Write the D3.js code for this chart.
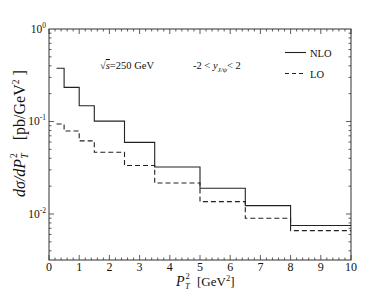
<!DOCTYPE html>
<html>
<head>
<meta charset="utf-8">
<script src="https://cdn.jsdelivr.net/npm/d3@7"></script>
<style>
  body { margin: 0; background: #fff; }
  text { font-family: 'Liberation Serif', 'Times New Roman', Times, serif; fill: #111; }
</style>
</head>
<body>
<div id="chart"></div>
<script>
// bin edges in P_T^2 (GeV^2)
const binEdges = [0.25, 0.5, 1, 1.5, 2.5, 3.5, 5, 6.5, 8, 10];
// dsigma/dPT^2 per bin (pb/GeV^2)
const nloValues = [0.376, 0.234, 0.148, 0.101, 0.0595, 0.0322, 0.019, 0.0123, 0.0075];
const loValues = [0.094, 0.079, 0.0617, 0.0465, 0.0334, 0.0216, 0.0136, 0.0090, 0.0066];
const xTicks = [0, 1, 2, 3, 4, 5, 6, 7, 8, 9, 10];
const yTicks = [1, 0.1, 0.01];
const yTickExp = ['0', '-1', '-2'];

const width = 390, height = 290;
const margin = {top: 29, right: 39, bottom: 30, left: 49};
const chartWidth = width - margin.left - margin.right,
      chartHeight = height - margin.top - margin.bottom;

const svg = d3.select('#chart').append('svg')
  .attr('width', width)
  .attr('height', height);

const x = d3.scaleLinear().domain([0, 10]).range([0, chartWidth]);
const y = d3.scaleLog().domain([0.00318, 1]).range([chartHeight, 0]);

const chart = svg.append('g')
  .attr('transform', `translate(${margin.left}, ${margin.top})`);

// minor ticks
const xMinor = d3.range(0, 10.001, 0.2);
const yMinor = [];
[0.001, 0.01, 0.1].forEach(dec => {
  for (let k = 1; k < 10; k++) {
    const v = dec * k;
    if (v >= 0.00318 && v <= 1) yMinor.push(v);
  }
});

const tickG = chart.append('g').attr('stroke', '#333').attr('stroke-width', 0.8);

xMinor.forEach(v => {
  const major = Math.abs(v - Math.round(v)) < 1e-6;
  const len = major ? 5 : 2.5;
  tickG.append('line').attr('x1', x(v)).attr('x2', x(v))
    .attr('y1', chartHeight).attr('y2', chartHeight - len);
  tickG.append('line').attr('x1', x(v)).attr('x2', x(v))
    .attr('y1', 0).attr('y2', len);
});

yMinor.forEach(v => {
  const major = yTicks.some(t => Math.abs(t - v) / t < 1e-6);
  const len = major ? 5 : 2.5;
  tickG.append('line').attr('x1', 0).attr('x2', len)
    .attr('y1', y(v)).attr('y2', y(v));
  tickG.append('line').attr('x1', chartWidth).attr('x2', chartWidth - len)
    .attr('y1', y(v)).attr('y2', y(v));
});

// frame
chart.append('rect')
  .attr('x', 0).attr('y', 0)
  .attr('width', chartWidth).attr('height', chartHeight)
  .attr('fill', 'none')
  .attr('stroke', '#333')
  .attr('stroke-width', 1);

// x tick labels
chart.append('g')
  .selectAll('text')
  .data(xTicks)
  .enter().append('text')
  .attr('x', d => x(d))
  .attr('y', chartHeight + 11)
  .attr('text-anchor', 'middle')
  .attr('font-size', 12)
  .text(d => d);

// y tick labels with superscripts
const yLab = chart.append('g')
  .selectAll('text')
  .data(yTicks)
  .enter().append('text')
  .attr('x', -3)
  .attr('y', d => y(d) + 4)
  .attr('text-anchor', 'end')
  .attr('font-size', 11.5);
yLab.append('tspan').text('10');
yLab.append('tspan')
  .attr('dy', -5)
  .attr('font-size', 7.5)
  .text((d, i) => yTickExp[i]);

// step histogram paths
function stepPoints(values) {
  const pts = values.map((v, i) => [binEdges[i], v]);
  pts.push([binEdges[binEdges.length - 1], values[values.length - 1]]);
  return pts;
}

const line = d3.line()
  .x(d => x(d[0]))
  .y(d => y(d[1]))
  .curve(d3.curveStepAfter);

chart.append('path')
  .datum(stepPoints(nloValues))
  .attr('d', line)
  .attr('fill', 'none')
  .attr('stroke', '#222')
  .attr('stroke-width', 1.1);

chart.append('path')
  .datum(stepPoints(loValues))
  .attr('d', line)
  .attr('fill', 'none')
  .attr('stroke', '#222')
  .attr('stroke-width', 1.1)
  .attr('stroke-dasharray', '5,3');

// annotations
const ann1 = svg.append('text')
  .attr('x', 100).attr('y', 69)
  .attr('font-size', 10.5);
ann1.append('tspan').text('√');
ann1.append('tspan').attr('font-style', 'italic')
  .attr('text-decoration', 'overline').text('s');
ann1.append('tspan').text('=250 GeV');

const ann2 = svg.append('text')
  .attr('x', 193).attr('y', 69)
  .attr('font-size', 10.5);
ann2.append('tspan').text('-2 < ');
ann2.append('tspan').attr('font-style', 'italic').text('y');
ann2.append('tspan').attr('font-style', 'italic')
  .attr('font-size', 7).attr('dy', 2.5).text('J/ψ');
ann2.append('tspan').attr('dy', -2.5).text('< 2');

// legend
const legend = svg.append('g');
legend.append('line')
  .attr('x1', 285).attr('x2', 306)
  .attr('y1', 52.5).attr('y2', 52.5)
  .attr('stroke', '#222').attr('stroke-width', 1.1);
legend.append('text')
  .attr('x', 310).attr('y', 56.5)
  .attr('font-size', 10.5)
  .text('NLO');
legend.append('line')
  .attr('x1', 285).attr('x2', 306)
  .attr('y1', 73.5).attr('y2', 73.5)
  .attr('stroke', '#222').attr('stroke-width', 1.1)
  .attr('stroke-dasharray', '4,3');
legend.append('text')
  .attr('x', 310).attr('y', 77.5)
  .attr('font-size', 10.5)
  .text('LO');

// P_T^2 style label: main italic text + stacked sub/superscript
function ptLabel(g, x0, y0, main, size, sub) {
  const t = g.append('text')
    .attr('x', x0).attr('y', y0)
    .attr('font-size', size).attr('font-style', 'italic')
    .text(main);
  const w = t.node().getComputedTextLength();
  g.append('text')
    .attr('x', x0 + w + 0.5).attr('y', y0 + 3)
    .attr('font-size', sub).attr('font-style', 'italic')
    .text('T');
  g.append('text')
    .attr('x', x0 + w + 1).attr('y', y0 - size * 0.5)
    .attr('font-size', sub)
    .text('2');
  return x0 + w + sub * 0.8;
}

// x axis label
const xl = svg.append('g');
ptLabel(xl, 176, 286, 'P', 14, 8.5);
const gevX = xl.append('text')
  .attr('x', 197).attr('y', 286)
  .attr('font-size', 13);
gevX.append('tspan').text('[GeV');
gevX.append('tspan').attr('font-size', 8.5).attr('dy', -5).text('2');
gevX.append('tspan').attr('dy', 5).text(']');

// y axis label (rotated)
const yl = svg.append('g').attr('transform', 'translate(25, 197) rotate(-90)');
const end = ptLabel(yl, 0, 0, 'dσ/dP', 16, 9.5);
const pbY = yl.append('text')
  .attr('x', end + 11).attr('y', 0)
  .attr('font-size', 16);
pbY.append('tspan').text('[pb/GeV');
pbY.append('tspan').attr('font-size', 9.5).attr('dy', -6).text('2');
pbY.append('tspan').attr('dy', 6).attr('xml:space', 'preserve').text(' ]');
</script>
</body>
</html>
